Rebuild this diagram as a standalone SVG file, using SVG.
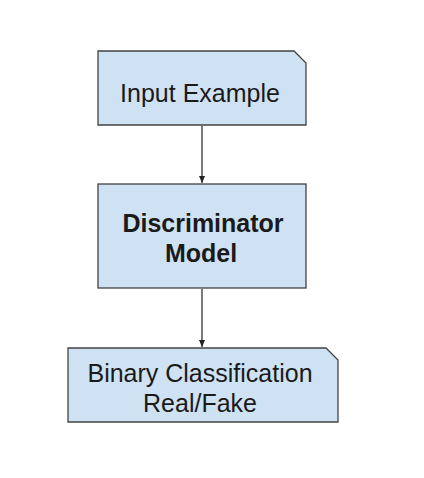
<svg xmlns="http://www.w3.org/2000/svg" width="424" height="478" viewBox="0 0 424 478">
<defs>
<style>
.box{fill:#cfe2f3;stroke:#434343;stroke-width:1.3}
.t{font-family:"Liberation Sans",Arial,sans-serif;font-size:25px;fill:#1a1a1a;text-anchor:middle}
.b{font-weight:bold}
.edge{stroke:#222;stroke-width:1.2;fill:none}
</style>
<marker id="ah" markerWidth="8" markerHeight="8" refX="7" refY="4" orient="auto" markerUnits="userSpaceOnUse">
<path d="M0,1 L7,4 L0,7 Z" fill="#222"/>
</marker>
</defs>
<rect width="424" height="478" fill="#fff"/>
<g id="connectors">
<line class="edge" x1="202" y1="126" x2="202" y2="183" marker-end="url(#ah)"/>
<line class="edge" x1="202" y1="289" x2="202" y2="347" marker-end="url(#ah)"/>
</g>
<g id="input">
<path class="box" d="M98,51 H294 L306,63 V125 H98 Z"/>
<text class="t" x="200" y="102">Input Example</text>
</g>
<g id="discriminator">
<rect class="box" x="98" y="184" width="208" height="104"/>
<text class="t b" x="203" y="232">Discriminator</text>
<text class="t b" x="201" y="262">Model</text>
</g>
<g id="output">
<path class="box" d="M68,348 H326 L338,360 V422 H68 Z"/>
<text class="t" x="200" y="382">Binary Classification</text>
<text class="t" x="200" y="412">Real/Fake</text>
</g>
</svg>
